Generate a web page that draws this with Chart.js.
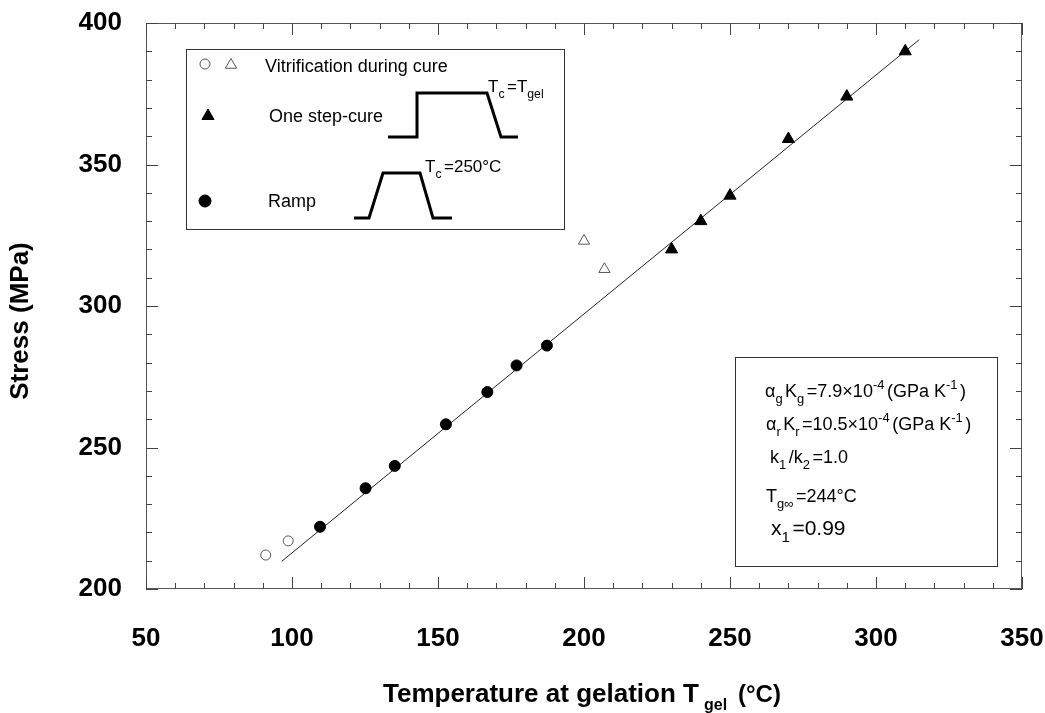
<!DOCTYPE html>
<html>
<head>
<meta charset="utf-8">
<title>Stress vs gelation temperature</title>
<script src="https://cdn.jsdelivr.net/npm/chart.js@4.4.1/dist/chart.umd.min.js"></script>
<style>
  body { margin: 0; background: #fff; }
  #wrap { width: 1045px; height: 713px; }
</style>
</head>
<body>
<div id="wrap"><canvas id="stress-chart" width="1045" height="713"></canvas></div>
<script>
// Data
const openCircleTemp = [91, 98.7];
const openCircleStress = [212, 217];
const openTriangleTemp = [200, 207];
const openTriangleStress = [323, 313];
const stepCureTemp = [230, 240, 250, 270, 290, 310];
const stepCureStress = [320, 330, 339, 359, 374, 390];
const rampTemp = [109.6, 125.2, 135.2, 152.7, 166.9, 176.9, 187.3];
const rampStress = [222, 235.6, 243.5, 258.2, 269.6, 279, 286];
const fitTemp = [96.5, 314.8];
const fitStress = [209.8, 394.1];

// Axis ticks
const xTicks = [50, 100, 150, 200, 250, 300, 350];
const yTicks = [200, 250, 300, 350, 400];
const xMinorStep = 10;
const yMinorStep = 10;

const FONT = "'Liberation Sans', Arial, Helvetica, sans-serif";

function toPoints(xs, ys) {
  return xs.map((v, i) => ({ x: v, y: ys[i] }));
}

// Text with sub/superscripts, parts = [[text, mode], ...]
function drawRich(ctx, x, y, parts, size, weight) {
  weight = weight || "normal";
  parts.forEach(([text, mode]) => {
    const s = mode ? size * 0.72 : size;
    const dy = mode === "sub" ? size * 0.34 : mode === "sup" ? -size * 0.42 : 0;
    ctx.font = `${weight} ${s}px ${FONT}`;
    ctx.fillText(text, x, y + dy);
    x += ctx.measureText(text).width + (mode ? 2.5 : 0);
  });
  return x;
}

function circle(ctx, x, y, r, filled) {
  ctx.beginPath();
  ctx.arc(x, y, r, 0, Math.PI * 2);
  ctx.fillStyle = filled ? "#000" : "#fff";
  ctx.fill();
  ctx.strokeStyle = filled ? "#000" : "#555";
  ctx.lineWidth = 1;
  ctx.stroke();
}

function triangle(ctx, x, y, r, filled) {
  ctx.beginPath();
  for (let k = 0; k < 3; k++) {
    const a = (k * 2 * Math.PI) / 3;
    const px = x + Math.sin(a) * r;
    const py = y - Math.cos(a) * r;
    k === 0 ? ctx.moveTo(px, py) : ctx.lineTo(px, py);
  }
  ctx.closePath();
  ctx.fillStyle = filled ? "#000" : "#fff";
  ctx.fill();
  ctx.strokeStyle = filled ? "#000" : "#555";
  ctx.lineWidth = 1;
  ctx.stroke();
}

function polyline(ctx, pts) {
  ctx.beginPath();
  pts.forEach(([px, py], i) => (i === 0 ? ctx.moveTo(px, py) : ctx.lineTo(px, py)));
  ctx.strokeStyle = "#000";
  ctx.lineWidth = 3;
  ctx.lineJoin = "miter";
  ctx.stroke();
  ctx.lineWidth = 1;
}

// Frame, inward ticks, axis titles and the two note boxes
const decorPlugin = {
  id: "decor",
  afterDraw(chart) {
    const { ctx, chartArea: a, scales: { x, y } } = chart;
    ctx.save();

    // frame
    ctx.strokeStyle = "#555";
    ctx.lineWidth = 1;
    ctx.strokeRect(a.left + 0.5, a.top + 0.5, a.width - 1, a.height - 1);

    // ticks on all four sides
    ctx.beginPath();
    for (let v = x.min; v <= x.max + 1e-6; v += xMinorStep) {
      const px = Math.round(x.getPixelForValue(v)) + 0.5;
      const len = xTicks.includes(Math.round(v)) ? 12 : 6;
      ctx.moveTo(px, a.bottom);
      ctx.lineTo(px, a.bottom - len);
      ctx.moveTo(px, a.top);
      ctx.lineTo(px, a.top + len);
    }
    for (let v = y.min; v <= y.max + 1e-6; v += yMinorStep) {
      const py = Math.round(y.getPixelForValue(v)) + 0.5;
      const len = yTicks.includes(Math.round(v)) ? 12 : 6;
      ctx.moveTo(a.left, py);
      ctx.lineTo(a.left + len, py);
      ctx.moveTo(a.right, py);
      ctx.lineTo(a.right - len, py);
    }
    ctx.strokeStyle = "#444";
    ctx.stroke();

    // axis titles
    ctx.fillStyle = "#000";
    ctx.textBaseline = "alphabetic";
    ctx.textAlign = "left";
    ctx.font = `bold 26px ${FONT}`;
    ctx.fillText("Temperature at gelation T", 383, 702);
    ctx.font = `bold 16px ${FONT}`;
    ctx.fillText("gel", 704, 710);
    ctx.font = `bold 24px ${FONT}`;
    ctx.fillText("(°C)", 738, 702);

    ctx.save();
    ctx.translate(21, 321);
    ctx.rotate(-Math.PI / 2);
    ctx.textAlign = "center";
    ctx.textBaseline = "middle";
    ctx.font = `bold 26px ${FONT}`;
    ctx.fillText("Stress (MPa)", 0, 0);
    ctx.restore();

    // legend box
    ctx.fillStyle = "#fff";
    ctx.fillRect(186, 49, 378, 180);
    ctx.strokeStyle = "#333";
    ctx.lineWidth = 1;
    ctx.strokeRect(186.5, 49.5, 378, 180);

    circle(ctx, 205, 64, 5, false);
    triangle(ctx, 231, 65, 6.5, false);
    triangle(ctx, 208, 116, 7, true);
    circle(ctx, 205, 201, 6, true);

    ctx.fillStyle = "#000";
    ctx.font = `18px ${FONT}`;
    ctx.fillText("Vitrification during cure", 265, 72);
    ctx.fillText("One step-cure", 269, 122);
    ctx.fillText("Ramp", 268, 207);

    polyline(ctx, [[388, 137], [417, 137], [417, 93], [487, 93], [501, 137], [518, 137]]);
    polyline(ctx, [[354, 218], [369, 218], [383, 173], [420, 173], [433, 218], [452, 218]]);

    ctx.fillStyle = "#000";
    drawRich(ctx, 488, 92, [["T", ""], ["c", "sub"], ["=T", ""], ["gel", "sub"]], 17);
    drawRich(ctx, 425, 172, [["T", ""], ["c", "sub"], ["=250°C", ""]], 17);

    // parameter box
    ctx.fillStyle = "#fff";
    ctx.fillRect(735, 357, 262, 209);
    ctx.strokeStyle = "#333";
    ctx.lineWidth = 1;
    ctx.strokeRect(735.5, 357.5, 262, 209);

    ctx.fillStyle = "#000";
    drawRich(ctx, 765, 397, [["α", ""], ["g", "sub"], ["K", ""], ["g", "sub"], ["=7.9×10", ""], ["-4", "sup"], ["(GPa K", ""], ["-1", "sup"], [")", ""]], 18);
    drawRich(ctx, 766, 430, [["α", ""], ["r", "sub"], ["K", ""], ["r", "sub"], ["=10.5×10", ""], ["-4", "sup"], ["(GPa K", ""], ["-1", "sup"], [")", ""]], 18);
    drawRich(ctx, 770, 463, [["k", ""], ["1", "sub"], ["/k", ""], ["2", "sub"], ["=1.0", ""]], 18);
    drawRich(ctx, 766, 502, [["T", ""], ["g∞", "sub"], ["=244°C", ""]], 18);
    drawRich(ctx, 771, 535, [["x", ""], ["1", "sub"], ["=0.99", ""]], 21);

    ctx.restore();
  }
};

const chart = new Chart(document.getElementById("stress-chart"), {
  type: "scatter",
  data: {
    datasets: [
      {
        label: "Fit",
        data: toPoints(fitTemp, fitStress),
        showLine: true,
        borderColor: "#222",
        borderWidth: 1,
        pointRadius: 0,
        order: 5,
      },
      {
        label: "Vitrification (circles)",
        data: toPoints(openCircleTemp, openCircleStress),
        pointStyle: "circle",
        pointRadius: 5,
        backgroundColor: "#fff",
        borderColor: "#555",
        borderWidth: 1,
        order: 1,
      },
      {
        label: "Vitrification (triangles)",
        data: toPoints(openTriangleTemp, openTriangleStress),
        pointStyle: "triangle",
        pointRadius: 6.5,
        backgroundColor: "#fff",
        borderColor: "#555",
        borderWidth: 1,
        order: 1,
      },
      {
        label: "One step-cure",
        data: toPoints(stepCureTemp, stepCureStress),
        pointStyle: "triangle",
        pointRadius: 7,
        backgroundColor: "#000",
        borderColor: "#000",
        borderWidth: 1,
        order: 1,
      },
      {
        label: "Ramp",
        data: toPoints(rampTemp, rampStress),
        pointStyle: "circle",
        pointRadius: 5.5,
        backgroundColor: "#000",
        borderColor: "#000",
        borderWidth: 1,
        order: 1,
      },
    ],
  },
  options: {
    responsive: false,
    animation: false,
    devicePixelRatio: 1,
    layout: { padding: { top: 23, right: 23, left: 0, bottom: 0 } },
    plugins: {
      legend: { display: false },
      tooltip: { enabled: false },
    },
    scales: {
      x: {
        type: "linear",
        min: 50,
        max: 350,
        afterBuildTicks: (s) => { s.ticks = xTicks.map((v) => ({ value: v })); },
        afterFit: (s) => {
          s.height = 124;
          s.paddingLeft = 0;
          s.paddingRight = 0;
        },
        grid: { display: false, drawTicks: false },
        border: { display: false },
        ticks: {
          color: "#000",
          padding: 34,
          maxRotation: 0,
          font: { family: FONT, size: 26, weight: "bold" },
        },
      },
      y: {
        type: "linear",
        min: 200,
        max: 400,
        afterBuildTicks: (s) => { s.ticks = yTicks.map((v) => ({ value: v })); },
        afterFit: (s) => {
          s.width = 146;
          s.paddingTop = 0;
          s.paddingBottom = 0;
        },
        grid: { display: false, drawTicks: false },
        border: { display: false },
        ticks: {
          color: "#000",
          padding: 24,
          font: { family: FONT, size: 26, weight: "bold" },
        },
      },
    },
  },
  plugins: [decorPlugin],
});
</script>
</body>
</html>
